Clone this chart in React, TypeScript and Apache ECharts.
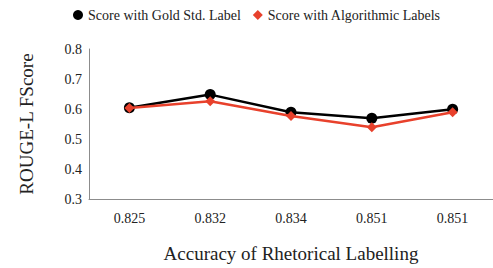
import React, { useEffect, useRef } from "react";
import * as echarts from "echarts";

const categories = ["0.825", "0.832", "0.834", "0.851", "0.851"];
const goldScores = [0.604, 0.648, 0.589, 0.569, 0.599];
const algoScores = [0.603, 0.626, 0.577, 0.539, 0.589];
const yTicks = { min: 0.3, max: 0.8, interval: 0.1 };

const FONT = "Liberation Serif";

export default function App() {
  const ref = useRef<HTMLDivElement>(null);
  useEffect(() => {
    if (!ref.current) return;
    const chart = echarts.init(ref.current, null, { renderer: "svg" });
    chart.setOption({
      animation: false,
      backgroundColor: "#ffffff",
      textStyle: { fontFamily: FONT },
      legend: {
        top: 3,
        left: 68,
        itemWidth: 10,
        itemHeight: 10,
        itemGap: 12,
        textStyle: { fontFamily: FONT, fontSize: 14, color: "#222" },
        data: [
          { name: "Score with Gold Std. Label", icon: "circle" },
          { name: "Score with Algorithmic Labels", icon: "diamond" },
        ],
      },
      grid: { left: 89, right: -6, top: 49, bottom: 65 },
      xAxis: {
        type: "category",
        data: categories,
        boundaryGap: true,
        axisLine: { lineStyle: { color: "#8c8c8c", width: 1 } },
        axisTick: { show: false },
        axisLabel: { fontFamily: FONT, fontSize: 14, color: "#222", margin: 12 },
        name: "Accuracy of Rhetorical Labelling",
        nameLocation: "middle",
        nameGap: 45,
        nameTextStyle: { fontFamily: FONT, fontSize: 19, color: "#222" },
      },
      yAxis: {
        type: "value",
        min: yTicks.min,
        max: yTicks.max,
        interval: yTicks.interval,
        axisLine: { show: true, lineStyle: { color: "#8c8c8c", width: 1 } },
        axisTick: { show: false },
        splitLine: { show: false },
        axisLabel: {
          fontFamily: FONT,
          fontSize: 14,
          color: "#222",
          margin: 7,
          formatter: (v: number) => v.toFixed(1),
        },
        name: "ROUGE-L FScore",
        nameLocation: "middle",
        nameGap: 53,
        nameTextStyle: { fontFamily: FONT, fontSize: 19, color: "#222" },
      },
      series: [
        {
          name: "Score with Gold Std. Label",
          type: "line",
          data: goldScores,
          symbol: "circle",
          symbolSize: 11,
          itemStyle: { color: "#000000" },
          lineStyle: { color: "#000000", width: 2.5 },
          z: 2,
        },
        {
          name: "Score with Algorithmic Labels",
          type: "line",
          data: algoScores,
          symbol: "diamond",
          symbolSize: 10,
          itemStyle: { color: "#e8412c" },
          lineStyle: { color: "#e8412c", width: 2.5 },
          z: 3,
        },
      ],
    });
    return () => chart.dispose();
  }, []);
  return (
    <div
      ref={ref}
      style={{ position: "absolute", left: 0, top: 0, width: 493, height: 268 }}
    />
  );
}
